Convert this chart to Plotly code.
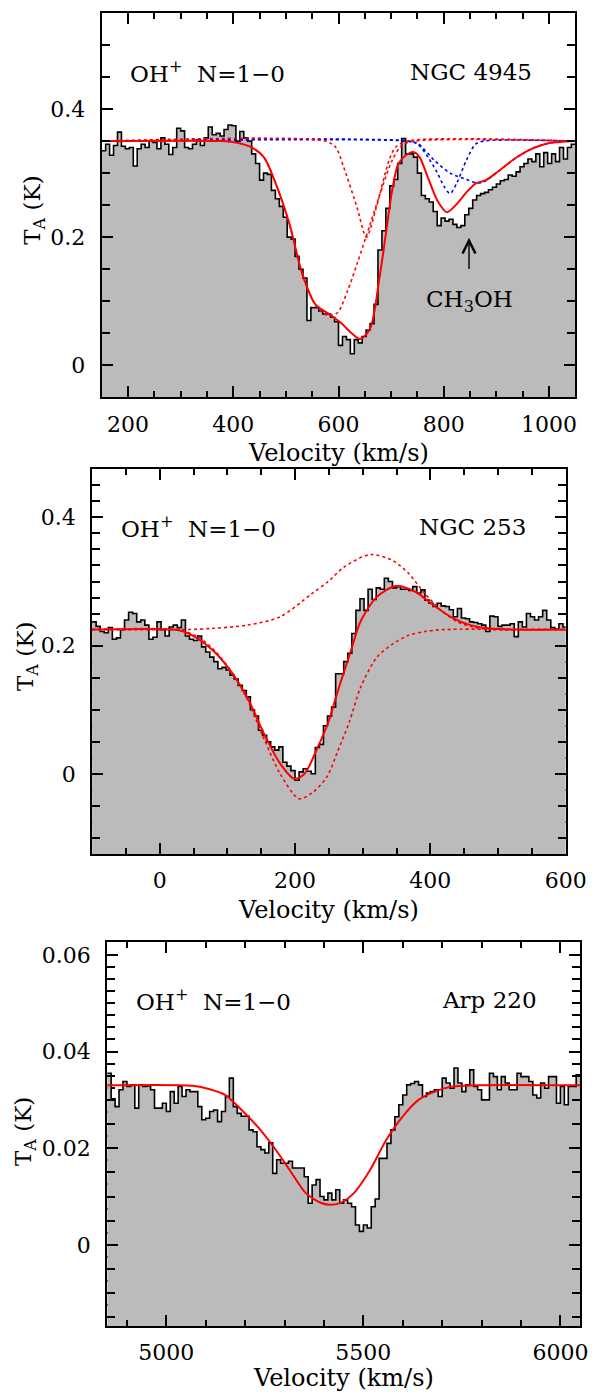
import numpy as np
import plotly.graph_objects as go

FONT = "DejaVu Serif"
GREY = "#bbbbbb"
RED = "#ff0000"
BLUE = "#0000ff"

# ---------------- NGC 4945 ----------------
n4945_v0, n4945_dv = 150.0, 7.5
n4945_ta = [
    0.335, 0.345, 0.328, 0.343, 0.364, 0.342, 0.338, 0.340, 0.311, 0.338,
    0.345, 0.340, 0.350, 0.348, 0.338, 0.355, 0.345, 0.329, 0.340, 0.370,
    0.366, 0.340, 0.338, 0.345, 0.352, 0.343, 0.355, 0.372, 0.360, 0.362,
    0.358, 0.368, 0.375, 0.374, 0.350, 0.365, 0.355, 0.350, 0.330, 0.315,
    0.289, 0.300, 0.298, 0.273, 0.260, 0.248, 0.231, 0.200, 0.197, 0.170,
    0.150, 0.136, 0.070, 0.090, 0.090, 0.085, 0.080, 0.080, 0.075, 0.068,
    0.031, 0.045, 0.040, 0.018, 0.040, 0.035, 0.045, 0.055, 0.065, 0.095,
    0.180, 0.210, 0.245, 0.280, 0.290, 0.315, 0.354, 0.330, 0.330, 0.325,
    0.300, 0.265, 0.260, 0.255, 0.240, 0.218, 0.230, 0.225, 0.228, 0.220,
    0.215, 0.218, 0.235, 0.245, 0.258, 0.265, 0.268, 0.270, 0.274, 0.278,
    0.283, 0.288, 0.290, 0.297, 0.295, 0.302, 0.310, 0.315, 0.322, 0.318,
    0.330, 0.310, 0.332, 0.315, 0.330, 0.318, 0.340, 0.322, 0.340, 0.345,
]
# total fit and the individual components (velocity, T_A)
n4945_fit_v = [150, 380, 403, 433, 458, 482, 507, 531, 556, 580, 605, 625, 641,
               660, 678, 690, 702, 714, 730, 742, 754, 770, 788, 806, 825, 843,
               861, 880, 904, 934, 965, 995, 1050]
n4945_fit_t = [0.35, 0.35, 0.348, 0.341, 0.325, 0.281, 0.22, 0.143, 0.095, 0.081,
               0.066, 0.05, 0.041, 0.057, 0.1375, 0.205, 0.273, 0.315, 0.329,
               0.333, 0.325, 0.293, 0.257, 0.239, 0.252, 0.27, 0.284, 0.289,
               0.303, 0.322, 0.337, 0.346, 0.35]
n4945_broad_v = [150, 380, 403, 433, 458, 482, 507, 531, 556, 578, 598, 617, 636,
                 660, 684, 702, 720, 745, 1050]
n4945_broad_t = [0.35, 0.35, 0.348, 0.341, 0.325, 0.281, 0.22, 0.143, 0.095, 0.078,
                 0.082, 0.116, 0.16, 0.22, 0.28, 0.32, 0.343, 0.35, 0.35]
n4945_narrow_v = [150, 575, 595, 610, 635, 653, 672, 696, 708, 730, 1050]
n4945_narrow_t = [0.35, 0.35, 0.34, 0.309, 0.247, 0.2, 0.247, 0.32, 0.34, 0.35, 0.35]
n4945_ch3oh_v = [150, 733, 751, 770, 788, 800, 812, 825, 843, 860, 875, 1050]
n4945_ch3oh_t = [0.35, 0.35, 0.345, 0.325, 0.30, 0.28, 0.268, 0.285, 0.32, 0.345, 0.35, 0.35]
n4945_wing_v = [150, 730, 751, 782, 812, 843, 861, 875, 904, 934, 965, 995, 1030, 1050]
n4945_wing_t = [0.35, 0.35, 0.346, 0.32, 0.30, 0.29, 0.285, 0.286, 0.303, 0.322,
                0.337, 0.346, 0.35, 0.35]
n4945_ch3oh_mark = 848          # velocity of the CH3OH arrow
n4945_arrow_t = [0.148, 0.199]  # arrow tail and tip
n4945_ch3oh_label_t = 0.10

# ---------------- NGC 253 ----------------
n253_v0, n253_dv = -100.0, 6.0
n253_ta = [
    0.237, 0.230, 0.222, 0.220, 0.228, 0.210, 0.212, 0.225, 0.240, 0.252,
    0.250, 0.237, 0.240, 0.232, 0.210, 0.213, 0.237, 0.225, 0.215, 0.229,
    0.232, 0.228, 0.240, 0.215, 0.210, 0.208, 0.215, 0.198, 0.190, 0.182,
    0.175, 0.164, 0.166, 0.162, 0.154, 0.148, 0.138, 0.130, 0.120, 0.100,
    0.090, 0.068, 0.060, 0.050, 0.042, 0.037, 0.042, 0.018, 0.012, 0.005,
    -0.010, 0.003, 0.008, 0.004, 0.000, 0.041, 0.046, 0.075, 0.090, 0.104,
    0.156, 0.156, 0.175, 0.188, 0.219, 0.255, 0.273, 0.255, 0.288, 0.272,
    0.290, 0.288, 0.305, 0.300, 0.290, 0.292, 0.288, 0.288, 0.286, 0.292,
    0.282, 0.287, 0.271, 0.266, 0.261, 0.266, 0.262, 0.261, 0.256, 0.245,
    0.258, 0.243, 0.242, 0.237, 0.236, 0.234, 0.232, 0.222, 0.246, 0.245,
    0.230, 0.232, 0.232, 0.234, 0.214, 0.237, 0.229, 0.250, 0.245, 0.240,
    0.245, 0.255, 0.240, 0.228, 0.226, 0.234, 0.229,
]
n253_fit_v = [-100, 20, 35, 59, 83, 107, 130, 154, 178, 199, 214, 233, 249, 265,
              282, 297, 321, 349, 378, 401, 430, 459, 487, 520, 600]
n253_fit_t = [0.225, 0.225, 0.222, 0.209, 0.188, 0.157, 0.118, 0.063, 0.016,
              -0.008, 0.0, 0.04, 0.08, 0.135, 0.19, 0.238, 0.276, 0.293, 0.284,
              0.266, 0.245, 0.232, 0.227, 0.225, 0.225]
n253_emis_v = [-100, 40, 80, 130, 178, 225, 249, 273, 311, 344, 368, 392, 416,
               440, 463, 490, 600]
n253_emis_t = [0.225, 0.225, 0.227, 0.232, 0.245, 0.281, 0.30, 0.323, 0.342, 0.333,
               0.3125, 0.281, 0.255, 0.237, 0.229, 0.225, 0.225]
n253_abs_v = [-100, 30, 59, 83, 107, 130, 154, 178, 206, 225, 247, 263, 280, 297,
              321, 345, 368, 392, 420, 600]
n253_abs_t = [0.225, 0.224, 0.212, 0.19, 0.158, 0.115, 0.055, 0.0, -0.039, -0.03,
              -0.005, 0.035, 0.08, 0.135, 0.182, 0.203, 0.216, 0.222, 0.225, 0.225]

# ---------------- Arp 220 ----------------
arp_v0, arp_dv = 4850.0, 10.0
arp_ta = [
    0.0355, 0.0302, 0.0286, 0.0321, 0.0338, 0.0328, 0.0331, 0.0283, 0.0331, 0.0328,
    0.0329, 0.0321, 0.0283, 0.0283, 0.0293, 0.0276, 0.0317, 0.0293, 0.0328, 0.0307,
    0.0321, 0.0317, 0.0317, 0.0286, 0.0259, 0.0262, 0.0276, 0.0279, 0.0255, 0.0276,
    0.0307, 0.0345, 0.0286, 0.0272, 0.0266, 0.0266, 0.0238, 0.0234, 0.0203, 0.0197,
    0.0190, 0.0211, 0.0148, 0.0176, 0.0169, 0.0169, 0.0173, 0.0159, 0.0159, 0.0159,
    0.0141, 0.0086, 0.0124, 0.0135, 0.0100, 0.0093, 0.0107, 0.0093, 0.0114, 0.0086,
    0.0093, 0.0086, 0.0079, 0.0041, 0.0028, 0.0041, 0.0035, 0.0079, 0.0095, 0.0179,
    0.0179, 0.0210, 0.0238, 0.0265, 0.0290, 0.0310, 0.0331, 0.0334, 0.0338, 0.0331,
    0.0307, 0.0314, 0.0317, 0.0321, 0.0307, 0.0345, 0.0335, 0.0324, 0.0366, 0.0335,
    0.0317, 0.0331, 0.0362, 0.0328, 0.0321, 0.0300, 0.0300, 0.0355, 0.0348, 0.0321,
    0.0348, 0.0335, 0.0321, 0.0321, 0.0355, 0.0348, 0.0348, 0.0338, 0.0310, 0.0304,
    0.0335, 0.0324, 0.0348, 0.0348, 0.0293, 0.0328, 0.0290, 0.0328, 0.0328, 0.0352,
]
arp_fit_v = [4850, 5068, 5110, 5150, 5191, 5231, 5272, 5313, 5354, 5395, 5419,
             5445, 5476, 5517, 5558, 5599, 5640, 5681, 5722, 5780, 6050]
arp_fit_t = [0.033, 0.0329, 0.0322, 0.031, 0.0279, 0.0245, 0.0203, 0.0155, 0.0107,
             0.0086, 0.0083, 0.0088, 0.0107, 0.0155, 0.0217, 0.0265, 0.030, 0.0317,
             0.0327, 0.033, 0.033]

# axis ranges
x_ranges = [[150, 1050], [-100, 600], [4850, 6050]]
y_ranges = [[-0.05, 0.55], [-0.125, 0.475], [-0.0168, 0.0626]]

# subplot boxes (paper fractions)
x_domains = [[0.1718, 0.9718], [0.1555, 0.9555], [0.1811, 0.9799]]
y_domains = [[0.7154, 0.9907], [0.3883, 0.6638], [0.0501, 0.3250]]

x_major = [[200, 400, 600, 800, 1000], [0, 200, 400, 600], [5000, 5500, 6000]]
x_minor_step = [50, 50, 100]
y_major = [[0, 0.2, 0.4], [0, 0.2, 0.4], [0, 0.02, 0.04, 0.06]]
y_major_text = [["0", "0.2", "0.4"], ["0", "0.2", "0.4"], ["0", "0.02", "0.04", "0.06"]]
y_minor_step = [0.05, 0.05, 0.005]

fig = go.Figure()


def axes_of(idx):
    return ("x", "y") if idx == 0 else (f"x{idx+1}", f"y{idx+1}")


def add_spectrum(idx, v0, dv, ta):
    xs = v0 + dv * np.arange(len(ta) + 1)
    ys = list(ta) + [ta[-1]]
    xa, ya = axes_of(idx)
    floor = [y_ranges[idx][0]] * len(xs)
    fig.add_trace(go.Scatter(x=xs, y=floor, mode="lines", line=dict(width=0, shape="hv"),
                             xaxis=xa, yaxis=ya, showlegend=False, hoverinfo="skip"))
    fig.add_trace(go.Scatter(x=xs, y=ys, mode="lines", fill="tonexty", fillcolor=GREY,
                             line=dict(color="black", width=1.6, shape="hv"),
                             xaxis=xa, yaxis=ya, showlegend=False, hoverinfo="skip"))


def add_curve(idx, v, t, color, dash=None, width=2.0):
    xa, ya = axes_of(idx)
    line = dict(color=color, width=width, shape="spline", smoothing=0.8)
    if dash:
        line["dash"] = dash
    fig.add_trace(go.Scatter(x=v, y=t, mode="lines", line=line, xaxis=xa, yaxis=ya,
                             showlegend=False, hoverinfo="skip"))


# NGC 4945
add_spectrum(0, n4945_v0, n4945_dv, n4945_ta)
add_curve(0, n4945_wing_v, n4945_wing_t, BLUE, "dot", 1.6)
add_curve(0, n4945_ch3oh_v, n4945_ch3oh_t, BLUE, "dot", 1.6)
add_curve(0, n4945_narrow_v, n4945_narrow_t, RED, "dot", 1.6)
add_curve(0, n4945_broad_v, n4945_broad_t, RED, "dot", 1.6)
add_curve(0, n4945_fit_v, n4945_fit_t, RED)

# NGC 253
add_spectrum(1, n253_v0, n253_dv, n253_ta)
add_curve(1, n253_emis_v, n253_emis_t, RED, "dot", 1.6)
add_curve(1, n253_abs_v, n253_abs_t, RED, "dot", 1.6)
add_curve(1, n253_fit_v, n253_fit_t, RED)

# Arp 220
add_spectrum(2, arp_v0, arp_dv, arp_ta)
add_curve(2, arp_fit_v, arp_fit_t, RED)

tickfont = dict(family=FONT, size=22, color="black")
layout = dict(
    width=613, height=1396, margin=dict(l=0, r=0, t=0, b=0),
    paper_bgcolor="white", plot_bgcolor="white", showlegend=False,
)

for i in range(3):
    sx = "" if i == 0 else str(i + 1)
    lo, hi = x_ranges[i]
    step = x_minor_step[i]
    xminor = [v for v in np.arange(np.ceil(lo / step) * step, hi + 1e-9, step)
              if v not in x_major[i]]
    layout["xaxis" + sx] = dict(
        domain=x_domains[i], anchor="y" + sx, range=x_ranges[i],
        tickmode="array", tickvals=x_major[i], ticktext=[str(v) for v in x_major[i]],
        ticks="inside", ticklen=11, tickwidth=1.5, tickcolor="black",
        minor=dict(tickmode="array", tickvals=xminor, ticks="inside", ticklen=6,
                   tickwidth=1.5, tickcolor="black", showgrid=False),
        showline=True, linewidth=2, linecolor="black", mirror="ticks",
        showgrid=False, zeroline=False, tickfont=tickfont, ticklabelstandoff=6,
    )
    ylo, yhi = y_ranges[i]
    ystep = y_minor_step[i]
    yminor = [round(v, 6) for v in np.arange(np.ceil(ylo / ystep) * ystep, yhi + 1e-9, ystep)]
    yminor = [v for v in yminor if all(abs(v - m) > 1e-9 for m in y_major[i])]
    layout["yaxis" + sx] = dict(
        domain=y_domains[i], anchor="x" + sx, range=y_ranges[i],
        tickmode="array", tickvals=y_major[i], ticktext=y_major_text[i],
        ticks="inside", ticklen=11, tickwidth=1.5, tickcolor="black",
        minor=dict(tickmode="array", tickvals=yminor, ticks="inside", ticklen=8,
                   tickwidth=1.5, tickcolor="black", showgrid=False),
        showline=True, linewidth=2, linecolor="black", mirror="ticks",
        showgrid=False, zeroline=False, tickfont=tickfont, ticklabelstandoff=10,
    )

# finer tick marks that only show where the spectrum fill leaves the frame white
fine_steps = {1: 0.025, 2: 0.0025}
for i, fstep in fine_steps.items():
    ylo, yhi = y_ranges[i]
    fine = [round(v, 6) for v in np.arange(np.ceil(ylo / fstep) * fstep, yhi + 1e-9, fstep)]
    coarse = y_minor_step[i]
    fine = [v for v in fine if abs(v / coarse - round(v / coarse)) > 1e-6]
    layout[f"yaxis{i + 4}"] = dict(
        overlaying="y" + str(i + 1), anchor="x" + str(i + 1), range=y_ranges[i],
        tickmode="array", tickvals=fine, showticklabels=False,
        ticks="inside", ticklen=8, tickwidth=1.5, tickcolor="black",
        showline=False, mirror="ticks", showgrid=False, zeroline=False,
        layer="below traces",
    )
    fig.add_trace(go.Scatter(x=[None], y=[None], xaxis="x" + str(i + 1),
                             yaxis="y" + str(i + 4), showlegend=False, hoverinfo="skip"))

fig.update_layout(**layout)

label_font = dict(family=FONT, size=23, color="black")
title_font = dict(family=FONT, size=24, color="black")
W, H = 613.0, 1396.0


def px(xp, yp):
    return xp / W, 1 - yp / H


annots = []
# panel labels
for (lx, ly), (rx, ry), name in [((133, 72), (553, 72), "NGC 4945"),
                                 ((123, 527), (547, 527), "NGC 253"),
                                 ((139, 1000), (558, 1000), "Arp 220")]:
    a, b = px(lx, ly)
    annots.append(dict(x=a, y=b, xref="paper", yref="paper", showarrow=False,
                       xanchor="left", yanchor="middle", font=label_font,
                       text="OH<sup>+</sup>\u00a0\u00a0N=1\u22120"))
    a, b = px(rx, ry)
    annots.append(dict(x=a, y=b, xref="paper", yref="paper", showarrow=False,
                       xanchor="right", yanchor="middle", font=label_font, text=name))

# axis titles
for (cx, cy) in [(350, 453), (340, 910), (356, 1378)]:
    a, b = px(cx, cy)
    annots.append(dict(x=a, y=b, xref="paper", yref="paper", showarrow=False,
                       xanchor="center", yanchor="middle", font=title_font,
                       text="Velocity (km/s)"))
for (cx, cy) in [(35, 210), (28, 657), (26, 1132)]:
    a, b = px(cx, cy)
    annots.append(dict(x=a, y=b, xref="paper", yref="paper", showarrow=False,
                       xanchor="center", yanchor="middle", font=label_font, textangle=-90,
                       text="T<sub>A</sub> (K)"))

# CH3OH marker in the NGC 4945 panel
annots.append(dict(x=n4945_ch3oh_mark, y=n4945_arrow_t[1], ax=n4945_ch3oh_mark,
                   ay=n4945_arrow_t[0], xref="x", yref="y", axref="x", ayref="y",
                   showarrow=True, arrowhead=5, arrowsize=1.8, arrowwidth=1.4,
                   arrowcolor="black", text=""))
annots.append(dict(x=n4945_ch3oh_mark, y=n4945_ch3oh_label_t, xref="x", yref="y",
                   showarrow=False, xanchor="center", yanchor="middle", font=label_font,
                   text="CH<sub>3</sub>OH"))

fig.update_layout(annotations=annots)
fig.write_html("out.html")
